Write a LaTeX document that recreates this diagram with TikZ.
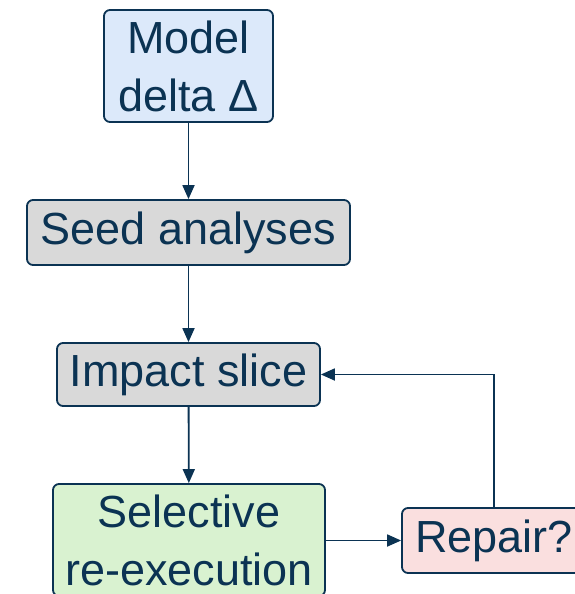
\documentclass[tikz,border=0pt]{standalone}
\usepackage{fontspec}
\setmainfont{Liberation Sans}
\usetikzlibrary{arrows.meta}
\definecolor{ink}{HTML}{0B3353}
\definecolor{fblue}{HTML}{DCE9FA}
\definecolor{fgray}{HTML}{D9D9D9}
\definecolor{fgreen}{HTML}{D9F2D0}
\definecolor{fpink}{HTML}{FADFDF}
\begin{document}
\begin{tikzpicture}[x=1pt,y=-1pt,
  box/.style={draw=ink, line width=1.8pt, rounded corners=6pt, text=ink,
    inner sep=0pt, align=center, font=\fontsize{45}{58}\selectfont},
  arr/.style={draw=ink, line width=1.8pt, -{Triangle[length=14pt,width=12pt]}}]
\useasboundingbox (0,0) rectangle (575,594);
\clip (0,0) rectangle (575,594);
\node[box, fill=fblue, minimum width=169pt, minimum height=112pt] (model) at (188.5,66) {Model\\delta Δ};
\node[box, fill=fgray, minimum width=323pt, minimum height=65pt] (seed) at (188.5,232.5) {Seed analyses};
\node[box, fill=fgray, minimum width=263pt, minimum height=63pt] (impact) at (188.5,374.5) {Impact slice};
\node[box, fill=fgreen, minimum width=272pt, minimum height=112pt] (sel) at (189,540) {Selective\\re-execution};
\node[box, fill=fpink, minimum width=184pt, minimum height=65pt] (repair) at (494,540.5) {Repair?};
\draw[arr] (model) -- (seed);
\draw[arr] (seed) -- (impact);
\draw[arr] (impact) -- (sel);
\draw[arr] (sel.east |- repair.west) -- (repair.west);
\draw[arr] (repair.north) |- (impact.east);
\end{tikzpicture}
\end{document}
